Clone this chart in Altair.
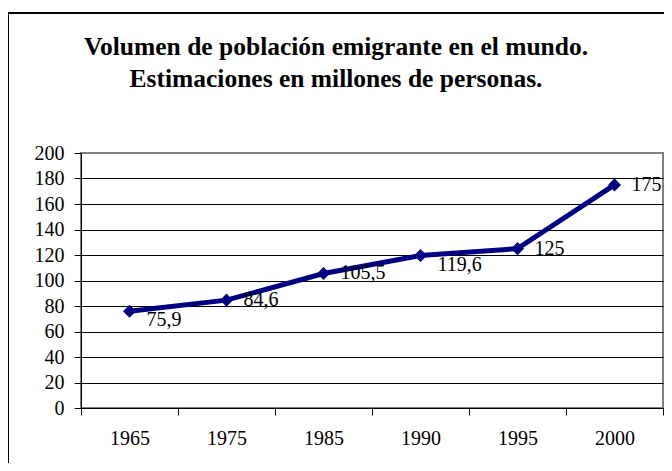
import altair as alt
import pandas as pd

years = ["1965", "1975", "1985", "1990", "1995", "2000"]
values = [75.9, 84.6, 105.5, 119.6, 125, 175]
labels = ["75,9", "84,6", "105,5", "119,6", "125", "175"]
title_lines = ["Volumen de población emigrante en el mundo.",
               "Estimaciones en millones de personas."]

df = pd.DataFrame({"year": years, "value": values, "label": labels})

FONT = "Liberation Serif"
NAVY = "#000080"

x_enc = alt.X("year:N", sort=years, title=None,
              scale=alt.Scale(paddingInner=0, paddingOuter=0),
              axis=alt.Axis(labelAngle=0, tickBand="extent", tickSize=7,
                            labelPadding=13, domainColor="black",
                            tickColor="black", labelFont=FONT,
                            labelFontSize=20, labelColor="black"))
y_enc = alt.Y("value:Q", title=None,
              scale=alt.Scale(domain=[0, 200], nice=False),
              axis=alt.Axis(values=list(range(0, 201, 20)), tickSize=7,
                            labelPadding=10, domainColor="black",
                            tickColor="black", labelFont=FONT,
                            labelFontSize=20, labelColor="black",
                            gridColor=alt.condition("datum.value === 200",
                                                    alt.value("#808080"),
                                                    alt.value("#000000")),
                            gridOpacity=1, gridWidth=1))

base = alt.Chart(df)

line = base.mark_line(color=NAVY, strokeWidth=5).encode(x=x_enc, y=y_enc)
pts = base.mark_point(shape="diamond", filled=True, size=170,
                      color=NAVY, opacity=1).encode(x=x_enc, y=y_enc)

lab_mid = base.transform_filter(
    "datum.year != '1965' && datum.year != '1990'"
).mark_text(align="left", baseline="middle", dx=17, font=FONT,
            fontSize=20, color="black").encode(x=x_enc, y=y_enc,
                                               text="label:N")
lab_low = base.transform_filter(
    "datum.year == '1965' || datum.year == '1990'"
).mark_text(align="left", baseline="middle", dx=17, dy=9, font=FONT,
            fontSize=20, color="black").encode(x=x_enc, y=y_enc,
                                               text="label:N")

ttl = alt.Chart(pd.DataFrame({"t": [title_lines[0]]})).mark_text(
    font=FONT, fontSize=25.5, fontWeight="bold", color="black",
    align="center", baseline="alphabetic"
).encode(x=alt.value(255), y=alt.value(-98), text="t:N")
ttl2 = alt.Chart(pd.DataFrame({"t": [title_lines[1]]})).mark_text(
    font=FONT, fontSize=25.5, fontWeight="bold", color="black",
    align="center", baseline="alphabetic"
).encode(x=alt.value(255), y=alt.value(-66), text="t:N")

border_top = alt.Chart(pd.DataFrame({"a": [0]})).mark_rule(
    color="black", strokeWidth=2
).encode(x=alt.value(-73), x2=alt.value(600), y=alt.value(-140))
border_left = alt.Chart(pd.DataFrame({"a": [0]})).mark_rule(
    color="black", strokeWidth=2
).encode(x=alt.value(-73), y=alt.value(-140), y2=alt.value(400))

chart = alt.layer(line, pts, lab_mid, lab_low, ttl, ttl2,
                  border_top, border_left).properties(
    width=582, height=255,
    autosize=alt.AutoSizeParams(type="none"),
    padding={"left": 73, "top": 145, "right": 1, "bottom": 55},
).configure_view(stroke="#808080", strokeWidth=2)

chart.save("out.html", embed_options={"renderer": "svg", "actions": False})
